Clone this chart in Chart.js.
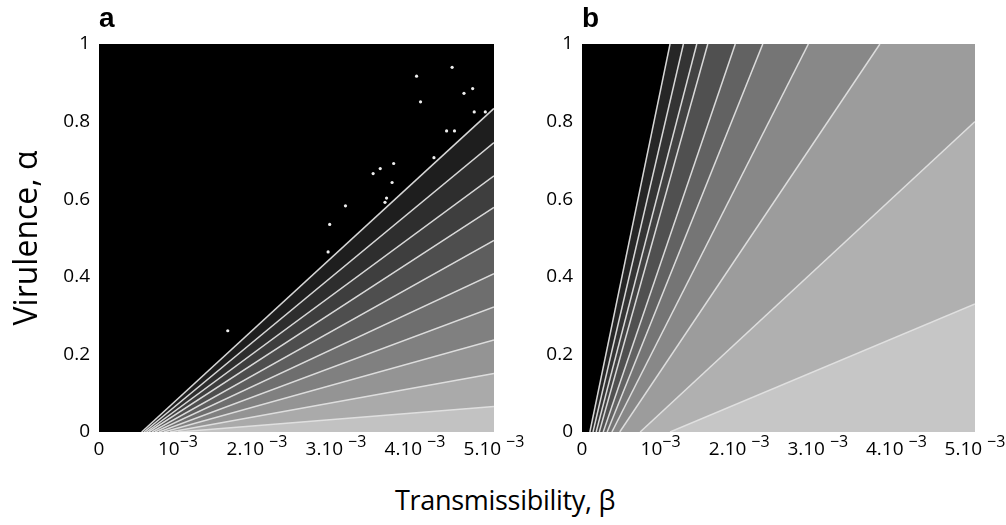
<!DOCTYPE html>
<html lang="en">
<head>
    <meta charset="UTF-8">
    <title>Virulence vs transmissibility</title>
    <script src="https://cdn.jsdelivr.net/npm/chart.js"></script>
    <style>
        body { margin: 0; background: #fff; width: 1006px; height: 525px; position: relative; overflow: hidden; }
        #wrapA { position: absolute; left: 0; top: 0; width: 540px; height: 470px; }
        #wrapB { position: absolute; left: 540px; top: 0; width: 466px; height: 470px; }
        #xTitle { position: absolute; left: 0; top: 481px; width: 1010px; text-align: center;
                  font: 27px "Open Sans", sans-serif; letter-spacing: -0.3px; color: #000; }
    </style>
</head>
<body>
    <div id="wrapA"><canvas id="panelA"></canvas></div>
    <div id="wrapB"><canvas id="panelB"></canvas></div>
    <div id="xTitle">Transmissibility, β</div>

    <script>
        // axis ticks (x labels are written as base + superscript exponent)
        const betaTicks = [0, 1e-3, 2e-3, 3e-3, 4e-3, 5e-3];
        const betaTickBase = ['0', '10', '2.10 ', '3.10 ', '4.10 ', '5.10 '];
        const betaTickExp = ['', '−3', '−3', '−3', '−3', '−3'];
        const alphaTicks = [0, 0.2, 0.4, 0.6, 0.8, 1];
        const alphaTickLabels = ['0', '0.2', '0.4', '0.6', '0.8', '1'];

        // panel a: boundary lines, from (start, 0) to (5e-3, endAlpha)
        const aStart = [0.54e-3, 0.57e-3, 0.60e-3, 0.63e-3, 0.67e-3, 0.71e-3, 0.76e-3, 0.82e-3, 0.90e-3, 1.0e-3];
        const aEndAlpha = [0.834, 0.746, 0.660, 0.579, 0.494, 0.408, 0.322, 0.237, 0.151, 0.066];
        const aShades = ['#1e1e1e', '#2e2e2e', '#3e3e3e', '#4e4e4e', '#5e5e5e', '#6e6e6e', '#808080', '#949494', '#aaaaaa', '#c2c2c2'];
        // isolated points above the first line in panel a
        const aDotsBeta = [1.63e-3, 4.02e-3, 4.07e-3, 4.47e-3, 4.62e-3, 4.73e-3, 4.75e-3, 4.89e-3, 4.40e-3, 4.50e-3,
                           4.24e-3, 3.47e-3, 3.56e-3, 3.73e-3, 3.71e-3, 3.64e-3, 3.62e-3, 3.12e-3, 2.92e-3, 2.90e-3];
        const aDotsAlpha = [0.261, 0.917, 0.851, 0.940, 0.873, 0.885, 0.825, 0.825, 0.776, 0.776,
                            0.707, 0.666, 0.679, 0.692, 0.643, 0.603, 0.592, 0.583, 0.535, 0.464];

        // panel b: boundary lines, from (start, 0) to (endBeta, endAlpha)
        const bStart = [0.10e-3, 0.14e-3, 0.18e-3, 0.22e-3, 0.27e-3, 0.32e-3, 0.38e-3, 0.48e-3, 0.74e-3, 1.12e-3];
        const bEndBeta = [1.12e-3, 1.29e-3, 1.46e-3, 1.60e-3, 1.95e-3, 2.30e-3, 2.88e-3, 3.79e-3, 5e-3, 5e-3];
        const bEndAlpha = [1, 1, 1, 1, 1, 1, 1, 1, 0.80, 0.33];
        const bShades = ['#262626', '#343434', '#424242', '#505050', '#626262', '#757575', '#888888', '#9c9c9c', '#b0b0b0', '#c6c6c6'];

        const lineColor = 'rgba(225,225,225,0.95)';
        const tickFont = { family: 'Open Sans', size: 19 };

        const plotBackground = {
            id: 'plotBackground',
            beforeDraw(chart) {
                const { ctx, chartArea: a } = chart;
                ctx.save();
                ctx.fillStyle = '#000';
                ctx.fillRect(a.left, a.top, a.right - a.left, a.bottom - a.top);
                ctx.restore();
            }
        };
        const panelLetter = {
            id: 'panelLetter',
            afterDraw(chart, args, opts) {
                const { ctx, chartArea: a } = chart;
                ctx.save();
                ctx.fillStyle = '#000';
                ctx.font = 'bold 28px "Liberation Sans", sans-serif';
                ctx.textBaseline = 'alphabetic';
                ctx.fillText(opts.text, a.left, 27);
                ctx.restore();
            }
        };
        // x tick labels with a raised exponent, placed by the x scale
        const expTicks = {
            id: 'expTicks',
            afterDraw(chart) {
                const { ctx, scales: { x } } = chart;
                ctx.save();
                ctx.fillStyle = '#000';
                ctx.textBaseline = 'alphabetic';
                betaTicks.forEach((v, i) => {
                    const px = x.getPixelForValue(v);
                    ctx.font = '19px "Open Sans"';
                    const w1 = ctx.measureText(betaTickBase[i]).width;
                    ctx.font = '16px "Open Sans"';
                    const w2 = ctx.measureText(betaTickExp[i]).width;
                    const left = px - (w1 + w2) / 2;
                    ctx.font = '19px "Open Sans"';
                    ctx.fillText(betaTickBase[i], left, x.top + 23);
                    ctx.font = '16px "Open Sans"';
                    ctx.fillText(betaTickExp[i], left + w1, x.top + 15);
                });
                ctx.restore();
            }
        };

        // one fill-only region below/right of each boundary
        function region(start, endB, endA, shade) {
            const pts = [{ x: 0, y: 0 }, { x: start, y: 0 }, { x: endB, y: endA }];
            if (endA === 1) pts.push({ x: 5e-3, y: 1 });
            return {
                type: 'line', data: pts,
                borderWidth: 0, borderColor: 'transparent',
                backgroundColor: shade, fill: 'start',
                pointRadius: 0, tension: 0
            };
        }
        // the light boundary stroke itself
        function edge(start, endB, endA) {
            return {
                type: 'line', data: [{ x: start, y: 0 }, { x: endB, y: endA }],
                borderColor: lineColor, borderWidth: 1.5, fill: false,
                pointRadius: 0, tension: 0
            };
        }

        function scales(yWidth, showTitle) {
            return {
                x: {
                    type: 'linear', min: 0, max: 5e-3,
                    grid: { display: false, drawTicks: false },
                    border: { display: false },
                    afterBuildTicks: s => { s.ticks = betaTicks.map(v => ({ value: v })); },
                    afterFit: s => { s.height = 38; },
                    ticks: { autoSkip: false, maxRotation: 0, callback: () => '' }
                },
                y: {
                    type: 'linear', min: 0, max: 1,
                    grid: { display: false, drawTicks: false },
                    border: { display: false },
                    afterBuildTicks: s => { s.ticks = alphaTicks.map(v => ({ value: v })); },
                    afterFit: s => { s.width = yWidth; },
                    ticks: {
                        autoSkip: false, padding: 9, color: '#000', font: tickFont,
                        callback: (v, i) => alphaTickLabels[i]
                    },
                    title: {
                        display: showTitle, text: 'Virulence, α', color: '#000',
                        font: { family: 'Open Sans', size: 32 },
                        padding: { top: 9, bottom: 0 }
                    }
                }
            };
        }

        const dsA = [{
            type: 'scatter',
            data: aDotsBeta.map((b, i) => ({ x: b, y: aDotsAlpha[i] })),
            pointRadius: 1.6, pointBackgroundColor: '#eee', pointBorderWidth: 0
        }];
        aStart.forEach((s, i) => dsA.push(edge(s, 5e-3, aEndAlpha[i])));
        for (let i = aStart.length - 1; i >= 0; i--) dsA.push(region(aStart[i], 5e-3, aEndAlpha[i], aShades[i]));

        const dsB = [];
        bStart.forEach((s, i) => dsB.push(edge(s, bEndBeta[i], bEndAlpha[i])));
        for (let i = bStart.length - 1; i >= 0; i--) dsB.push(region(bStart[i], bEndBeta[i], bEndAlpha[i], bShades[i]));

        const common = {
            responsive: true, maintainAspectRatio: false, animation: false,
            plugins: { legend: { display: false }, tooltip: { enabled: false } }
        };

        new Chart(document.getElementById('panelA'), {
            type: 'line',
            data: { datasets: dsA },
            plugins: [plotBackground, panelLetter, expTicks],
            options: Object.assign({}, common, {
                layout: { padding: { top: 44, right: 46, left: 0, bottom: 0 } },
                scales: scales(99, true),
                plugins: Object.assign({}, common.plugins, { panelLetter: { text: 'a' } })
            })
        });

        new Chart(document.getElementById('panelB'), {
            type: 'line',
            data: { datasets: dsB },
            plugins: [plotBackground, panelLetter, expTicks],
            options: Object.assign({}, common, {
                layout: { padding: { top: 44, right: 31, left: 0, bottom: 0 } },
                scales: scales(42, false),
                plugins: Object.assign({}, common.plugins, { panelLetter: { text: 'b' } })
            })
        });
    </script>
</body>
</html>
